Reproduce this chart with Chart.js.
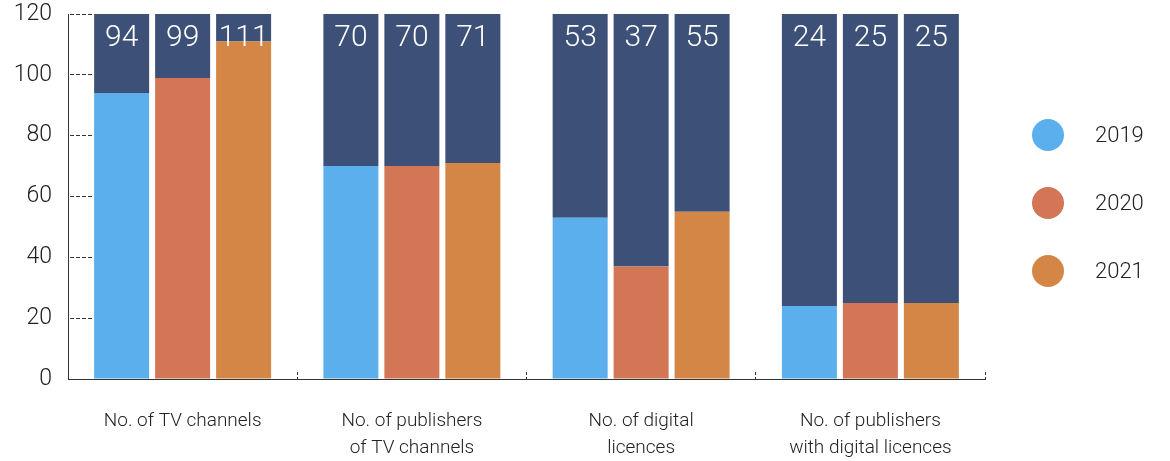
<!DOCTYPE html>
<html>
<head>
<meta charset="utf-8">
<script src="https://cdn.jsdelivr.net/npm/chart.js@4/dist/chart.umd.min.js"></script>
<style>
  html, body { margin: 0; padding: 0; background: #fff; }
  #wrap { position: relative; width: 1170px; height: 461px; }
</style>
</head>
<body>
<div id="wrap"><canvas id="c" width="1170" height="461"></canvas></div>
<script>
// Categories and yearly values
const categories = [
  ['No. of TV channels'],
  ['No. of publishers', 'of TV channels'],
  ['No. of digital', 'licences'],
  ['No. of publishers', 'with digital licences']
];
const years = ['2019', '2020', '2021'];
const values2019 = [94, 70, 53, 24];
const values2020 = [99, 70, 37, 25];
const values2021 = [111, 71, 55, 25];
const yTicks = [0, 20, 40, 60, 80, 100, 120];
const scaleMax = 120;

const yearColors = ['#5AAFEC', '#D27656', '#D48646'];
const fillColor = '#3D5078';
const inkColor = '#222222';
const fontFamily = 'Roboto, "Open Sans", sans-serif';
const fontWeight = '300';

const seriesValues = [values2019, values2020, values2021];

// Each year is one stack: the coloured value with a dark fill above it up to the scale maximum
const datasets = [];
years.forEach((y, i) => {
  datasets.push({
    label: y,
    data: seriesValues[i],
    backgroundColor: yearColors[i],
    stack: 's' + y,
    isValue: true,
    borderWidth: 0
  });
  datasets.push({
    label: 'fill ' + y,
    data: seriesValues[i].map(v => scaleMax - v),
    backgroundColor: fillColor,
    stack: 's' + y,
    isValue: false,
    borderWidth: 0
  });
});

// Value numbers written near the top of each column
const valueLabels = {
  id: 'valueLabels',
  afterDatasetsDraw(chart) {
    const ctx = chart.ctx;
    const yScale = chart.scales.y;
    ctx.save();
    ctx.fillStyle = '#ffffff';
    ctx.font = fontWeight + ' 30px ' + fontFamily;
    ctx.textAlign = 'center';
    ctx.textBaseline = 'middle';
    chart.data.datasets.forEach((ds, di) => {
      if (!ds.isValue) return;
      const meta = chart.getDatasetMeta(di);
      meta.data.forEach((bar, j) => {
        ctx.fillText(String(ds.data[j]), bar.x, yScale.getPixelForValue(scaleMax) + 24);
      });
    });
    ctx.restore();
  }
};

// Year legend to the right of the plot
const sideLegend = {
  id: 'sideLegend',
  afterDraw(chart) {
    const ctx = chart.ctx;
    ctx.save();
    ctx.font = fontWeight + ' 22px ' + fontFamily;
    ctx.textBaseline = 'middle';
    ctx.textAlign = 'left';
    years.forEach((y, i) => {
      const cy = 135 + i * 68;
      ctx.beginPath();
      ctx.arc(1048, cy, 16, 0, Math.PI * 2);
      ctx.fillStyle = yearColors[i];
      ctx.fill();
      ctx.fillStyle = inkColor;
      ctx.fillText(y, 1095, cy + 1);
    });
    ctx.restore();
  }
};

new Chart(document.getElementById('c'), {
  type: 'bar',
  data: { labels: categories, datasets },
  options: {
    responsive: false,
    animation: false,
    devicePixelRatio: 1,
    layout: { padding: { top: 14, right: 185, left: 0, bottom: 0 } },
    plugins: { legend: { display: false }, tooltip: { enabled: false } },
    datasets: { bar: { categoryPercentage: 0.798, barPercentage: 0.902 } },
    scales: {
      x: {
        stacked: true,
        offset: true,
        afterFit(s) { s.height = 82; s.paddingLeft = 0; s.paddingRight = 0; },
        grid: {
          drawOnChartArea: false,
          drawTicks: true,
          tickLength: -8,
          color: '#333',
          tickBorderDash: [3, 2],
          offset: true
        },
        border: { display: true, color: '#333', dash: [4, 2], width: 1 },
        ticks: {
          color: inkColor,
          font: { family: fontFamily, size: 19, weight: fontWeight, lineHeight: 1.4 },
          padding: 37,
          maxRotation: 0,
          autoSkip: false
        }
      },
      y: {
        stacked: true,
        min: 0,
        max: scaleMax,
        afterFit(s) { s.width = 68; s.paddingTop = 0; s.paddingBottom = 0; },
        afterBuildTicks(s) { s.ticks = yTicks.map(v => ({ value: v })); },
        grid: {
          drawOnChartArea: false,
          drawTicks: true,
          tickLength: -24,
          color: '#333',
          tickBorderDash: [4, 2]
        },
        border: { display: true, color: '#333', dash: [4, 2], width: 1 },
        ticks: {
          color: inkColor,
          font: { family: fontFamily, size: 23, weight: fontWeight },
          padding: 40
        }
      }
    }
  },
  plugins: [valueLabels, sideLegend]
});
</script>
</body>
</html>
